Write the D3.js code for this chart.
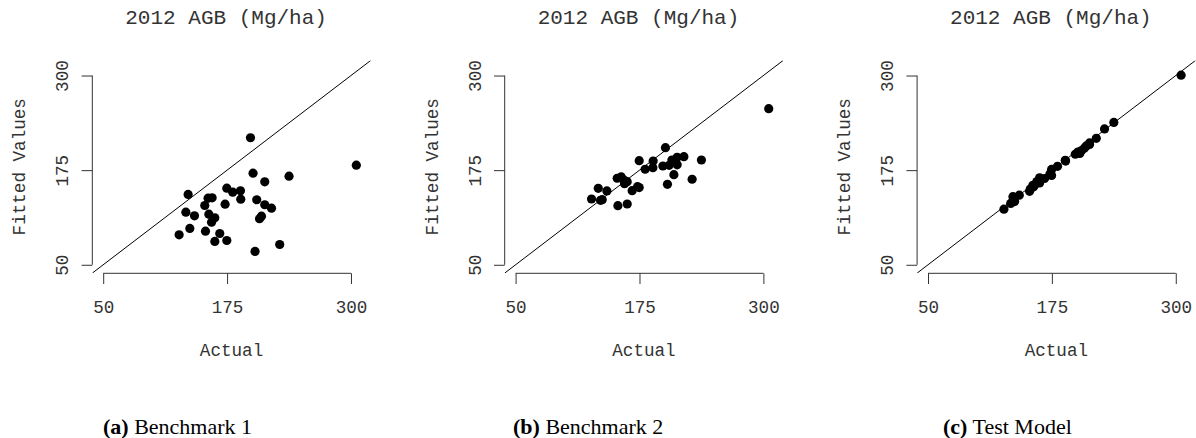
<!DOCTYPE html>
<html>
<head>
<meta charset="utf-8">
<script src="https://cdn.jsdelivr.net/npm/d3@7"></script>
<style>
  body { margin: 0; background: #fff; }
  svg { display: block; }
</style>
</head>
<body>
<svg id="chart" width="1196" height="438"></svg>
<script>
// Observed above-ground biomass per plot (Mg/ha), shared by all three models
const actual = [126.6, 133.4, 135.7, 137.4, 142.1, 152.5, 153.2, 155.8, 156.6, 159.3, 159.9,
                162.6, 162.6, 167.6, 173.0, 174.7, 174.7, 180.7, 188.5, 188.8, 198.6, 201.2,
                203.2, 204.9, 207.7, 209.7, 213.0, 213.0, 219.8, 228.1, 237.5, 305.4];

// Fitted values of each model, in the same plot order as `actual`
const fittedBenchmark1 = [89.6, 119.5, 142.9, 98.0, 114.7, 128.3, 94.4, 138.0, 116.8, 106.3, 138.5,
                          112.1, 80.8, 91.3, 130.0, 151.2, 82.1, 145.9, 147.8, 136.7, 217.8, 171.0,
                          67.6, 135.9, 110.8, 114.2, 159.6, 129.3, 124.8, 76.8, 167.0, 181.6];
const fittedBenchmark2 = [136.9, 151.0, 135.2, 136.0, 147.5, 164.3, 128.1, 165.1, 166.0, 162.0, 157.1,
                          159.8, 130.3, 147.9, 153.2, 152.0, 187.5, 176.2, 178.3, 187.1, 180.5, 204.7,
                          156.3, 181.4, 188.4, 169.0, 192.0, 182.0, 192.8, 163.0, 188.4, 256.2];
const fittedTestModel  = [123.5, 131.0, 140.0, 133.5, 142.0, 147.0, 150.0, 155.0, 153.0, 157.5, 160.0,
                          158.0, 165.0, 164.0, 170.0, 168.0, 176.0, 180.0, 188.0, 187.0, 196.0, 199.0,
                          197.0, 201.0, 204.0, 207.0, 211.0, 209.0, 217.0, 229.5, 238.0, 300.5];

const axisTicks = [50, 175, 300];
const panelTitle = "2012 AGB (Mg/ha)";
const xLabel = "Actual";
const yLabel = "Fitted Values";
const captionTags = ["(a)", "(b)", "(c)"];
const captionNames = ["Benchmark 1", "Benchmark 2", "Test Model"];

const panels = [fittedBenchmark1, fittedBenchmark2, fittedTestModel];

const svg = d3.select("#chart");
const mono = "'Liberation Mono', 'Courier New', monospace";
const serif = "'Liberation Serif', 'Times New Roman', serif";
const inkText = "#333";
const inkAxis = "#333";

const domain = [39, 320];          // plotting window, same on both axes
const panelStep = 412.4;           // horizontal distance between panels
const captionX = [103, 513, 943];

panels.forEach((fitted, i) => {
  const ox = i * panelStep;
  const x = d3.scaleLinear().domain(domain).range([92.3 + ox, 370.8 + ox]);
  const y = d3.scaleLinear().domain(domain).range([273.1, 60.4]);
  const g = svg.append("g");

  const clipId = "plot-clip-" + i;
  svg.append("defs").append("clipPath").attr("id", clipId)
    .append("rect")
    .attr("x", x(domain[0])).attr("y", y(domain[1]))
    .attr("width", x(domain[1]) - x(domain[0]))
    .attr("height", y(domain[0]) - y(domain[1]));

  // 1:1 reference line
  g.append("line")
    .attr("clip-path", `url(#${clipId})`)
    .attr("x1", x(domain[0])).attr("y1", y(domain[0]))
    .attr("x2", x(domain[1])).attr("y2", y(domain[1]))
    .attr("stroke", "#000").attr("stroke-width", 1);

  // points
  g.append("g").selectAll("circle")
    .data(actual.map((a, k) => [a, fitted[k]]))
    .join("circle")
    .attr("cx", d => x(d[0]))
    .attr("cy", d => y(d[1]))
    .attr("r", 4.6)
    .attr("fill", "#000");

  // bottom axis
  const xAxis = g.append("g")
    .attr("transform", `translate(0,${y(domain[0]) + 0.2})`)
    .call(d3.axisBottom(x).tickValues(axisTicks).tickSize(10.7).tickFormat(d3.format("d")));
  xAxis.select(".domain").remove();
  xAxis.append("line")
    .attr("x1", x(axisTicks[0])).attr("x2", x(axisTicks[axisTicks.length - 1]))
    .attr("stroke", inkAxis);
  xAxis.selectAll(".tick line").attr("stroke", inkAxis);
  xAxis.selectAll(".tick text")
    .attr("y", 40.2).attr("dy", null)
    .attr("fill", inkText)
    .style("font-family", mono).style("font-size", "17.6px");

  // left axis
  const yAxis = g.append("g")
    .attr("transform", `translate(${x(domain[0])},0)`)
    .call(d3.axisLeft(y).tickValues(axisTicks).tickSize(10.7).tickFormat(d3.format("d")));
  yAxis.select(".domain").remove();
  yAxis.append("line")
    .attr("y1", y(axisTicks[0])).attr("y2", y(axisTicks[axisTicks.length - 1]))
    .attr("stroke", inkAxis);
  yAxis.selectAll(".tick line").attr("stroke", inkAxis);
  yAxis.selectAll(".tick text")
    .attr("transform", "rotate(-90)")
    .attr("x", 0).attr("y", -24).attr("dy", null)
    .attr("text-anchor", "middle")
    .attr("fill", inkText)
    .style("font-family", mono).style("font-size", "17.6px");

  // panel title
  g.append("text")
    .attr("x", x(175) - 1).attr("y", 24)
    .attr("text-anchor", "middle")
    .attr("fill", inkText)
    .style("font-family", mono).style("font-size", "21px")
    .text(panelTitle);

  // axis titles
  g.append("text")
    .attr("x", (x(domain[0]) + x(domain[1])) / 2).attr("y", 356)
    .attr("text-anchor", "middle")
    .attr("fill", inkText)
    .style("font-family", mono).style("font-size", "17.6px")
    .text(xLabel);

  g.append("text")
    .attr("transform", `translate(${25.3 + ox},${(y(domain[0]) + y(domain[1])) / 2}) rotate(-90)`)
    .attr("text-anchor", "middle")
    .attr("fill", inkText)
    .style("font-family", mono).style("font-size", "17.6px")
    .text(yLabel);

  // sub-figure caption
  const cap = svg.append("text")
    .attr("x", captionX[i]).attr("y", 434)
    .attr("fill", "#000")
    .style("font-family", serif).style("font-size", "22px");
  cap.append("tspan").style("font-weight", "bold").text(captionTags[i]);
  cap.append("tspan").text(" " + captionNames[i]);
});
</script>
</body>
</html>
